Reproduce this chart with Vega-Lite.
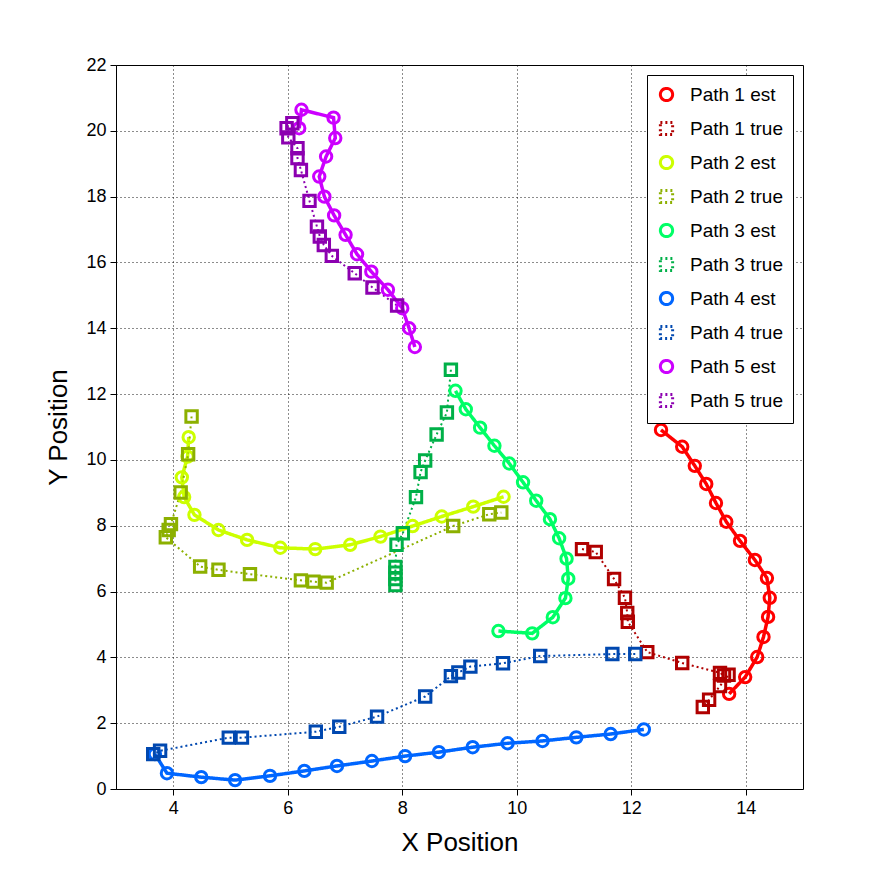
{
  "$schema": "https://vega.github.io/schema/vega-lite/v6.json",
  "width": 687,
  "height": 724,
  "autosize": "none",
  "padding": {"left": 116, "top": 65, "right": 84, "bottom": 97},
  "background": "white",
  "config": {
    "view": {"stroke": "black", "strokeWidth": 1},
    "font": "Liberation Sans",
    "axis": {
      "grid": true, "gridColor": "black", "gridDash": [1, 3], "gridOpacity": 0.9, "gridWidth": 1,
      "domain": false, "tickColor": "black", "labelColor": "black",
      "labelFontSize": 18, "titleFontSize": 26, "titleFontWeight": "normal", "titleColor": "black"
    }
  },
  "data": {"values": [
    {"path":"Path 1 est","i":1,"x":12.52,"y":10.91},{"path":"Path 1 est","i":2,"x":12.89,"y":10.40},{"path":"Path 1 est","i":3,"x":13.11,"y":9.82},{"path":"Path 1 est","i":4,"x":13.31,"y":9.27},{"path":"Path 1 est","i":5,"x":13.48,"y":8.69},{"path":"Path 1 est","i":6,"x":13.66,"y":8.12},{"path":"Path 1 est","i":7,"x":13.90,"y":7.54},{"path":"Path 1 est","i":8,"x":14.16,"y":6.96},{"path":"Path 1 est","i":9,"x":14.37,"y":6.41},{"path":"Path 1 est","i":10,"x":14.42,"y":5.81},{"path":"Path 1 est","i":11,"x":14.39,"y":5.23},{"path":"Path 1 est","i":12,"x":14.31,"y":4.62},{"path":"Path 1 est","i":13,"x":14.20,"y":4.01},{"path":"Path 1 est","i":14,"x":13.99,"y":3.40},{"path":"Path 1 est","i":15,"x":13.71,"y":2.89},
    {"path":"Path 1 true","i":1,"x":11.14,"y":7.29},{"path":"Path 1 true","i":2,"x":11.38,"y":7.20},{"path":"Path 1 true","i":3,"x":11.70,"y":6.38},{"path":"Path 1 true","i":4,"x":11.89,"y":5.81},{"path":"Path 1 true","i":5,"x":11.93,"y":5.35},{"path":"Path 1 true","i":6,"x":11.94,"y":5.08},{"path":"Path 1 true","i":7,"x":12.28,"y":4.16},{"path":"Path 1 true","i":8,"x":12.89,"y":3.83},{"path":"Path 1 true","i":9,"x":13.55,"y":3.53},{"path":"Path 1 true","i":10,"x":13.62,"y":3.45},{"path":"Path 1 true","i":11,"x":13.70,"y":3.47},{"path":"Path 1 true","i":12,"x":13.55,"y":3.13},{"path":"Path 1 true","i":13,"x":13.36,"y":2.71},{"path":"Path 1 true","i":14,"x":13.25,"y":2.49},
    {"path":"Path 2 est","i":1,"x":4.27,"y":10.69},{"path":"Path 2 est","i":2,"x":4.25,"y":10.10},{"path":"Path 2 est","i":3,"x":4.15,"y":9.47},{"path":"Path 2 est","i":4,"x":4.19,"y":8.87},{"path":"Path 2 est","i":5,"x":4.37,"y":8.33},{"path":"Path 2 est","i":6,"x":4.79,"y":7.87},{"path":"Path 2 est","i":7,"x":5.29,"y":7.57},{"path":"Path 2 est","i":8,"x":5.87,"y":7.33},{"path":"Path 2 est","i":9,"x":6.48,"y":7.29},{"path":"Path 2 est","i":10,"x":7.09,"y":7.42},{"path":"Path 2 est","i":11,"x":7.62,"y":7.67},{"path":"Path 2 est","i":12,"x":8.18,"y":7.99},{"path":"Path 2 est","i":13,"x":8.69,"y":8.28},{"path":"Path 2 est","i":14,"x":9.24,"y":8.58},{"path":"Path 2 est","i":15,"x":9.77,"y":8.88},
    {"path":"Path 2 true","i":1,"x":4.32,"y":11.32},{"path":"Path 2 true","i":2,"x":4.26,"y":10.17},{"path":"Path 2 true","i":3,"x":4.13,"y":9.01},{"path":"Path 2 true","i":4,"x":3.96,"y":8.05},{"path":"Path 2 true","i":5,"x":3.92,"y":7.87},{"path":"Path 2 true","i":6,"x":3.87,"y":7.65},{"path":"Path 2 true","i":7,"x":4.47,"y":6.76},{"path":"Path 2 true","i":8,"x":4.79,"y":6.66},{"path":"Path 2 true","i":9,"x":5.34,"y":6.53},{"path":"Path 2 true","i":10,"x":6.23,"y":6.34},{"path":"Path 2 true","i":11,"x":6.45,"y":6.30},{"path":"Path 2 true","i":12,"x":6.68,"y":6.27},{"path":"Path 2 true","i":13,"x":8.89,"y":7.99},{"path":"Path 2 true","i":14,"x":9.52,"y":8.35},{"path":"Path 2 true","i":15,"x":9.73,"y":8.40},
    {"path":"Path 3 est","i":1,"x":8.93,"y":12.10},{"path":"Path 3 est","i":2,"x":9.11,"y":11.54},{"path":"Path 3 est","i":3,"x":9.36,"y":10.98},{"path":"Path 3 est","i":4,"x":9.61,"y":10.43},{"path":"Path 3 est","i":5,"x":9.87,"y":9.89},{"path":"Path 3 est","i":6,"x":10.11,"y":9.32},{"path":"Path 3 est","i":7,"x":10.34,"y":8.76},{"path":"Path 3 est","i":8,"x":10.58,"y":8.20},{"path":"Path 3 est","i":9,"x":10.74,"y":7.62},{"path":"Path 3 est","i":10,"x":10.87,"y":7.00},{"path":"Path 3 est","i":11,"x":10.90,"y":6.39},{"path":"Path 3 est","i":12,"x":10.85,"y":5.80},{"path":"Path 3 est","i":13,"x":10.63,"y":5.22},{"path":"Path 3 est","i":14,"x":10.27,"y":4.73},{"path":"Path 3 est","i":15,"x":9.68,"y":4.80},
    {"path":"Path 3 true","i":1,"x":8.85,"y":12.74},{"path":"Path 3 true","i":2,"x":8.78,"y":11.44},{"path":"Path 3 true","i":3,"x":8.60,"y":10.77},{"path":"Path 3 true","i":4,"x":8.40,"y":9.98},{"path":"Path 3 true","i":5,"x":8.32,"y":9.63},{"path":"Path 3 true","i":6,"x":8.24,"y":8.87},{"path":"Path 3 true","i":7,"x":8.01,"y":7.77},{"path":"Path 3 true","i":8,"x":7.90,"y":7.42},{"path":"Path 3 true","i":9,"x":7.88,"y":6.75},{"path":"Path 3 true","i":10,"x":7.88,"y":6.57},{"path":"Path 3 true","i":11,"x":7.88,"y":6.38},{"path":"Path 3 true","i":12,"x":7.88,"y":6.20},
    {"path":"Path 4 est","i":1,"x":12.22,"y":1.81},{"path":"Path 4 est","i":2,"x":11.64,"y":1.67},{"path":"Path 4 est","i":3,"x":11.04,"y":1.57},{"path":"Path 4 est","i":4,"x":10.45,"y":1.46},{"path":"Path 4 est","i":5,"x":9.84,"y":1.39},{"path":"Path 4 est","i":6,"x":9.23,"y":1.27},{"path":"Path 4 est","i":7,"x":8.64,"y":1.12},{"path":"Path 4 est","i":8,"x":8.05,"y":1.00},{"path":"Path 4 est","i":9,"x":7.47,"y":0.85},{"path":"Path 4 est","i":10,"x":6.86,"y":0.70},{"path":"Path 4 est","i":11,"x":6.29,"y":0.55},{"path":"Path 4 est","i":12,"x":5.69,"y":0.40},{"path":"Path 4 est","i":13,"x":5.08,"y":0.27},{"path":"Path 4 est","i":14,"x":4.49,"y":0.36},{"path":"Path 4 est","i":15,"x":3.89,"y":0.48},{"path":"Path 4 est","i":16,"x":3.68,"y":1.06},
    {"path":"Path 4 true","i":1,"x":12.07,"y":4.10},{"path":"Path 4 true","i":2,"x":11.67,"y":4.10},{"path":"Path 4 true","i":3,"x":10.41,"y":4.04},{"path":"Path 4 true","i":4,"x":9.76,"y":3.82},{"path":"Path 4 true","i":5,"x":9.19,"y":3.72},{"path":"Path 4 true","i":6,"x":8.98,"y":3.54},{"path":"Path 4 true","i":7,"x":8.85,"y":3.43},{"path":"Path 4 true","i":8,"x":8.40,"y":2.81},{"path":"Path 4 true","i":9,"x":7.56,"y":2.20},{"path":"Path 4 true","i":10,"x":6.90,"y":1.89},{"path":"Path 4 true","i":11,"x":6.49,"y":1.74},{"path":"Path 4 true","i":12,"x":5.20,"y":1.56},{"path":"Path 4 true","i":13,"x":4.97,"y":1.56},{"path":"Path 4 true","i":14,"x":3.77,"y":1.16},{"path":"Path 4 true","i":15,"x":3.65,"y":1.06},
    {"path":"Path 5 est","i":1,"x":6.20,"y":20.08},{"path":"Path 5 est","i":2,"x":6.24,"y":20.64},{"path":"Path 5 est","i":3,"x":6.80,"y":20.40},{"path":"Path 5 est","i":4,"x":6.83,"y":19.78},{"path":"Path 5 est","i":5,"x":6.67,"y":19.22},{"path":"Path 5 est","i":6,"x":6.55,"y":18.61},{"path":"Path 5 est","i":7,"x":6.64,"y":18.00},{"path":"Path 5 est","i":8,"x":6.81,"y":17.43},{"path":"Path 5 est","i":9,"x":7.01,"y":16.84},{"path":"Path 5 est","i":10,"x":7.21,"y":16.25},{"path":"Path 5 est","i":11,"x":7.46,"y":15.72},{"path":"Path 5 est","i":12,"x":7.75,"y":15.17},{"path":"Path 5 est","i":13,"x":8.00,"y":14.61},{"path":"Path 5 est","i":14,"x":8.12,"y":14.00},{"path":"Path 5 est","i":15,"x":8.22,"y":13.43},
    {"path":"Path 5 true","i":1,"x":6.08,"y":20.23},{"path":"Path 5 true","i":2,"x":5.98,"y":20.08},{"path":"Path 5 true","i":3,"x":6.01,"y":19.80},{"path":"Path 5 true","i":4,"x":6.17,"y":19.47},{"path":"Path 5 true","i":5,"x":6.17,"y":19.17},{"path":"Path 5 true","i":6,"x":6.23,"y":18.81},{"path":"Path 5 true","i":7,"x":6.38,"y":17.87},{"path":"Path 5 true","i":8,"x":6.51,"y":17.09},{"path":"Path 5 true","i":9,"x":6.56,"y":16.79},{"path":"Path 5 true","i":10,"x":6.63,"y":16.53},{"path":"Path 5 true","i":11,"x":6.77,"y":16.20},{"path":"Path 5 true","i":12,"x":7.17,"y":15.67},{"path":"Path 5 true","i":13,"x":7.48,"y":15.24},{"path":"Path 5 true","i":14,"x":7.91,"y":14.69}
  ]},
  "encoding": {
    "x": {"field": "x", "type": "quantitative", "title": "X Position",
      "scale": {"domain": [3, 15], "nice": false, "zero": false},
      "axis": {"values": [4, 6, 8, 10, 12, 14], "tickSize": 6, "labelPadding": 4, "titlePadding": 12}},
    "y": {"field": "y", "type": "quantitative", "title": "Y Position",
      "scale": {"domain": [0, 22], "nice": false},
      "axis": {"values": [0, 2, 4, 6, 8, 10, 12, 14, 16, 18, 20, 22], "tickSize": 6, "labelPadding": 4, "titlePadding": 14}},
    "color": {"field": "path", "type": "nominal", "title": null,
      "scale": {
        "domain": ["Path 1 est", "Path 1 true", "Path 2 est", "Path 2 true", "Path 3 est", "Path 3 true", "Path 4 est", "Path 4 true", "Path 5 est", "Path 5 true"],
        "range": ["#ff0000", "#b00000", "#ccff00", "#8cb000", "#00ff66", "#00b048", "#0066ff", "#0048b0", "#cc00ff", "#8c00b0"]},
      "legend": {"orient": "top-right", "offset": 10, "labelFontSize": 19, "labelColor": "black", "labelOffset": 14, "symbolSize": 150, "symbolStrokeWidth": 3, "rowPadding": 9, "strokeColor": "black", "fillColor": "white", "padding": 10, "labelLimit": 200}}
  },
  "layer": [
    {
      "mark": {"type": "line"},
      "encoding": {
        "order": {"field": "i"},
        "strokeDash": {"field": "path", "type": "nominal", "legend": null,
          "scale": {"domain": ["Path 1 est", "Path 1 true", "Path 2 est", "Path 2 true", "Path 3 est", "Path 3 true", "Path 4 est", "Path 4 true", "Path 5 est", "Path 5 true"],
            "range": [[1, 0], [2, 3], [1, 0], [2, 3], [1, 0], [2, 3], [1, 0], [2, 3], [1, 0], [2, 3]]}},
        "strokeWidth": {"condition": {"test": "indexof(datum.path, 'est') >= 0", "value": 3.5}, "value": 2}
      }
    },
    {
      "mark": {"type": "point", "filled": false, "strokeWidth": 3, "size": 130, "opacity": 1},
      "encoding": {
        "shape": {"field": "path", "type": "nominal", "title": null,
          "scale": {"domain": ["Path 1 est", "Path 1 true", "Path 2 est", "Path 2 true", "Path 3 est", "Path 3 true", "Path 4 est", "Path 4 true", "Path 5 est", "Path 5 true"],
            "range": ["circle", "square", "circle", "square", "circle", "square", "circle", "square", "circle", "square"]}}
      }
    }
  ]
}
